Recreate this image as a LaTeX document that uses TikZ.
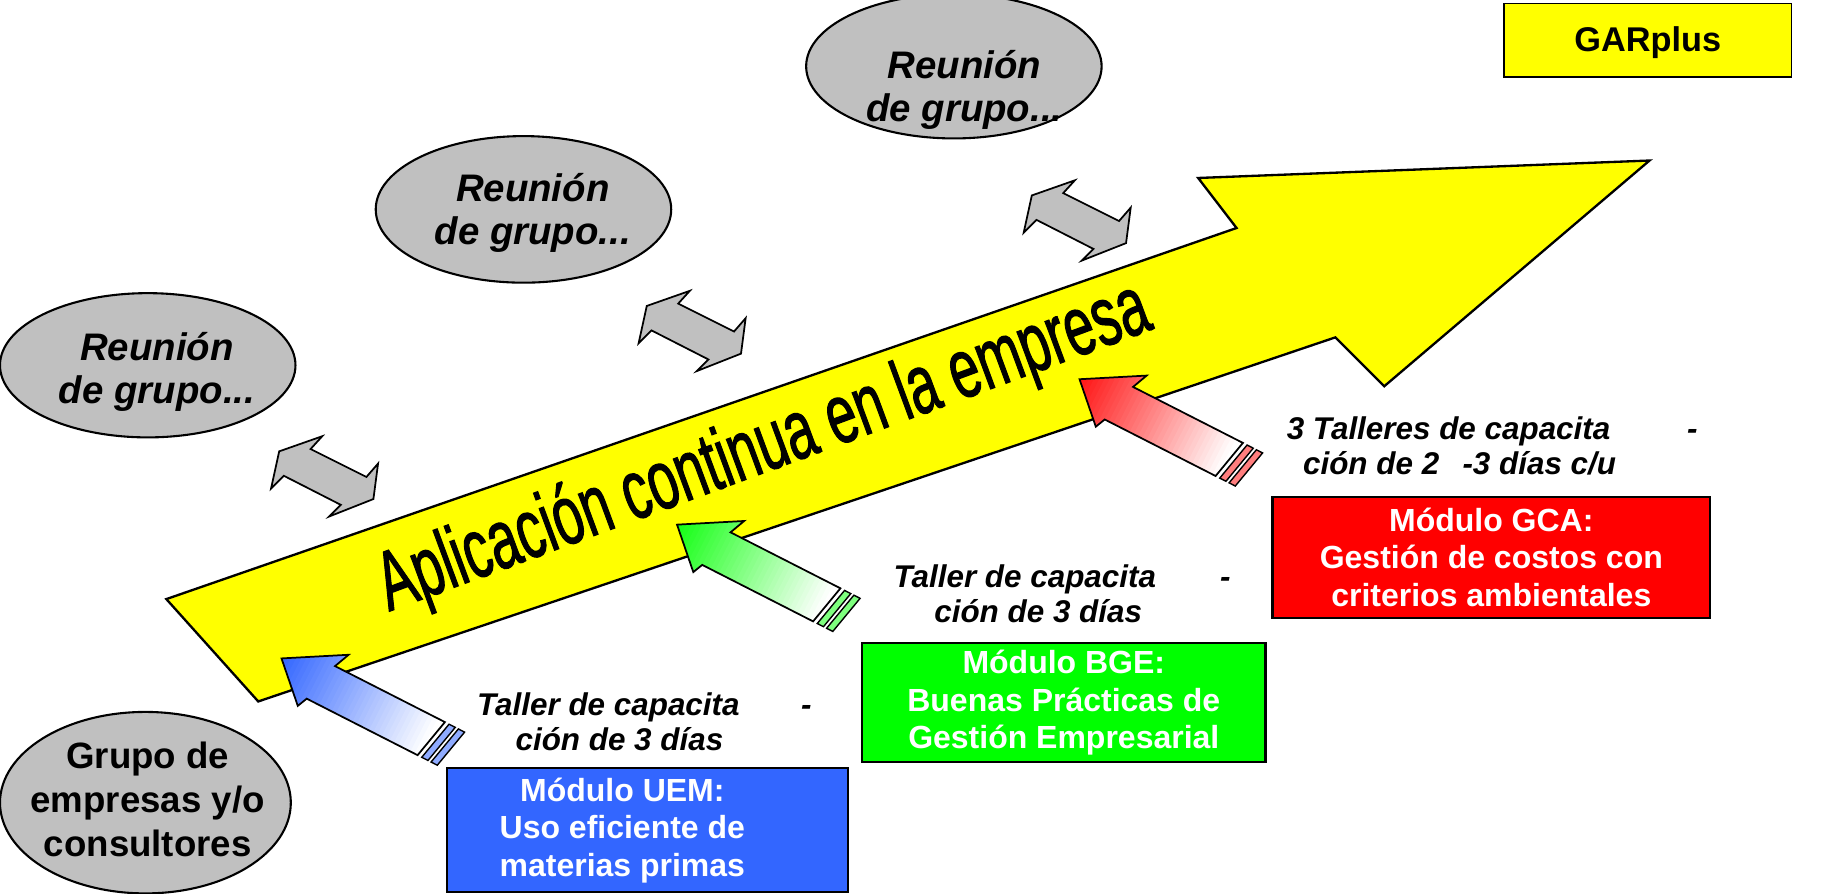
\documentclass[tikz,border=0pt]{standalone}
\usepackage{fontspec}
\usepackage{graphicx}
\setmainfont{Liberation Sans}
\newfontfamily\aplfont[FakeBold=1.6]{Liberation Sans}
\usetikzlibrary{shapes.geometric}
\definecolor{ygold}{RGB}{255,255,0}
\definecolor{meetgray}{RGB}{192,192,192}
\definecolor{boxblue}{RGB}{51,102,255}
\definecolor{boxgreen}{RGB}{0,255,0}
\definecolor{boxred}{RGB}{255,0,0}
\definecolor{arrblue}{RGB}{51,102,255}
\definecolor{arrgreen}{RGB}{20,255,20}
\definecolor{arrred}{RGB}{255,20,20}
\newcommand{\feedarrow}[3]{%
\begin{scope}[shift={(#1,#2)}, x={(0.891pt,-0.454pt)}, y={(-0.454pt,-0.891pt)}]
  \begin{scope}
    \clip (0,0) -- (50,-29) -- (44,-15) -- (150,-15) -- (142,21) -- (35,21) -- (31,30) -- cycle;
    \foreach \k in {0,...,38} {
      \pgfmathsetmacro{\pc}{max(0,100-2.8*\k)}
      \fill[#3!\pc!white] (4*\k-1,-40) -- (4*\k+4,-40) -- (4*\k+4,40) -- (4*\k-1,40) -- cycle;
    }
  \end{scope}
  \draw[line width=1.5pt, line join=miter] (0,0) -- (50,-29) -- (44,-15) -- (150,-15) -- (142,21) -- (35,21) -- (31,30) -- cycle;
  \foreach \o in {4,13} {\filldraw[fill=#3!55!white, line width=1.2pt] (150+\o,-15) -- (156+\o,-15) -- (148+\o,21) -- (142+\o,21) -- cycle;}
\end{scope}}
\begin{document}
\begin{tikzpicture}[x=1pt,y=-1pt,
  meet/.style={ellipse, draw=black, line width=1.8pt, fill=meetgray, inner sep=0pt},
  meettext/.style={font=\fontsize{33}{37}\selectfont\bfseries\itshape, align=center, inner sep=0pt},
  modbox/.style={draw=black, line width=2pt, inner sep=0pt, text=white, font=\fontsize{27.5}{32}\selectfont\bfseries, align=center},
  modtext/.style={inner sep=0pt, text=white, font=\fontsize{27.5}{32}\selectfont\bfseries, align=center},
  lbl/.style={font=\fontsize{27}{30}\selectfont\bfseries\itshape, align=left, inner sep=0pt, anchor=base west},
  dbl/.style={draw=black, line width=1.5pt, fill=meetgray, line join=miter},
  dblarrow/.pic={\path[dbl] (0,0) -- (37,-13) -- (27,-2) -- (75,22) -- (85,10.5) -- (81,41) -- (43,56) -- (53,46) -- (4,21) -- (-7,32) -- cycle;}
]
\useasboundingbox (0,0) rectangle (1568,768.4);

% big yellow arrow
\draw[fill=ygold, line width=2pt, line join=miter] (143,515) -- (1063,196) -- (1030,153) -- (1418,138) -- (1190,332) -- (1148,290) -- (222,603) -- cycle;
\node[rotate=20.3, inner sep=0pt, font=\fontsize{72}{72}\selectfont\aplfont] (apl) at (657,386) {\scalebox{0.64}[1]{Aplicación continua en la empresa}};

% meeting ellipses
\node[meet, minimum width=254pt, minimum height=124pt] (m1) at (127,314) {};
\node[meettext] (m1t) at (135,320) {Reunión\\de grupo...};
\node[meet, minimum width=254pt, minimum height=126pt] (m2) at (450,180) {};
\node[meettext] (m2t) at (458,183) {Reunión\\de grupo...};
\node[meet, minimum width=254pt, minimum height=124pt] (m3) at (820,57) {};
\node[meettext] (m3t) at (829,77) {Reunión\\de grupo...};
\node[meet, minimum width=250pt, minimum height=156pt] (grp) at (125,690) {};
\node[inner sep=0pt, align=center, font=\fontsize{31.5}{38}\selectfont\bfseries] (grpt) at (127,687) {Grupo de\\empresas y/o\\consultores};

% double arrows
\pic (da1) at (240,388) {dblarrow};
\pic (da2) at (556,263) {dblarrow};
\pic (da3) at (887,168) {dblarrow};

% feeding arrows
\feedarrow{242}{566}{arrblue}
\feedarrow{582}{451}{arrgreen}
\feedarrow{928}{326}{arrred}

% module boxes
\node[modbox, fill=boxred, minimum width=376pt, minimum height=104pt] (gca) at (1282,479) {Módulo GCA:\\Gestión de costos con\\criterios ambientales};
\node[modbox, fill=boxgreen, minimum width=347pt, minimum height=102pt] (bge) at (914.5,604) {Módulo BGE:\\Buenas Prácticas de\\Gestión Empresarial};
\node[modbox, fill=boxblue, minimum width=345pt, minimum height=107pt] (uembox) at (556.5,713.5) {};
\node[modtext] (uem) at (535,714) {Módulo UEM:\\Uso eficiente de\\materias primas};
\node[draw=black, line width=1.5pt, fill=ygold, minimum width=247pt, minimum height=63pt, inner sep=0pt] (garbox) at (1416.5,34.5) {};
\node[inner sep=0pt, font=\fontsize{29.5}{34}\selectfont\bfseries] (gar) at (1416.5,37) {GARplus};

% workshop labels
\node[lbl] (l1) at (410,645) {Taller de capacita\hspace{53pt}-\\\hspace*{33pt}ción de 3 días};
\node[lbl] (l2) at (768,535) {Taller de capacita\hspace{55pt}-\\\hspace*{35pt}ción de 3 días};
\node[lbl] (l3) at (1106,408) {3 Talleres de capacita\hspace{66pt}-\\\hspace*{14pt}ción de 2\hspace{20pt}-3 días c/u};
\end{tikzpicture}
\end{document}
